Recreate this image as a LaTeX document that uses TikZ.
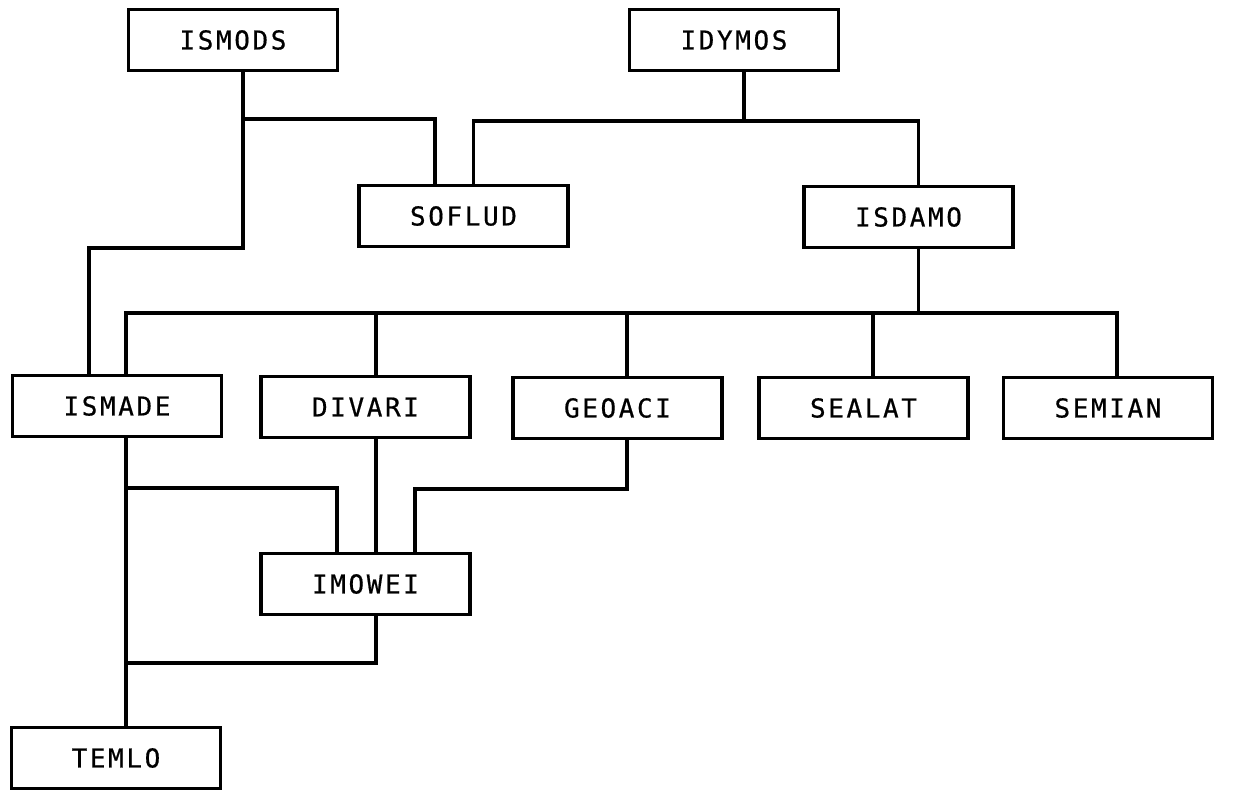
\documentclass[tikz,border=0pt]{standalone}
\usepackage{fontspec}
\newfontfamily\boxfont{DejaVu Sans Mono}[LetterSpace=10,FakeBold=0.6]
\usetikzlibrary{calc}
\begin{document}
\begin{tikzpicture}[x=1pt,y=-1pt,
  modbox/.style={draw, line width=3.8pt, rectangle, minimum width=209pt, minimum height=61pt, inner sep=0pt,
    font=\boxfont\fontsize{26}{26}\selectfont},
  link/.style={line width=3.4pt, line join=miter}]
\useasboundingbox (0,0) rectangle (1240,792);
\fill[white] (0,0) rectangle (1240,792);

% nodes
\node[modbox] (ismods) at (233,40) {ISMODS};
\node[modbox] (idymos) at (734,40) {IDYMOS};
\node[modbox] (soflud) at (463.5,216) {SOFLUD};
\node[modbox] (isdamo) at (908.5,217) {ISDAMO};
\node[modbox] (ismade) at (117,406) {ISMADE};
\node[modbox] (divari) at (365.5,407) {DIVARI};
\node[modbox] (geoaci) at (617.5,408) {GEOACI};
\node[modbox] (sealat) at (863.5,408) {SEALAT};
\node[modbox] (semian) at (1108,408) {SEMIAN};
\node[modbox] (imowei) at (365.5,584) {IMOWEI};
\node[modbox] (temlo) at (116,758) {TEMLO};

% junctions
\coordinate (a1) at (243,119);
\coordinate (a2) at (243,248);
\coordinate (b1) at (744,121);
\coordinate (c1) at (918.5,313);
\coordinate (d1) at (126,488);
\coordinate (d2) at (126,663);
\coordinate (e1) at (627,489);

% ISMODS
\draw[link] ([xshift=10pt]ismods.south) -- (a1) -| ([xshift=-28.5pt]soflud.north);
\draw[link] (a1) -- (a2) -| ([xshift=-28pt]ismade.north);

% IDYMOS
\draw[link] ([xshift=10pt]idymos.south) -- (b1);
\draw[link] ([xshift=10pt]soflud.north) |- (b1) -| ([xshift=10pt]isdamo.north);

% ISDAMO bus
\draw[link] ([xshift=10pt]isdamo.south) -- (c1);
\draw[link] ([xshift=9pt]ismade.north) |- (c1) -| ([xshift=9pt]semian.north);
\draw[link] ([xshift=10.5pt]divari.north) -- ([xshift=10.5pt]divari.north |- c1);
\draw[link] ([xshift=9.5pt]geoaci.north) -- ([xshift=9.5pt]geoaci.north |- c1);
\draw[link] ([xshift=9.5pt]sealat.north) -- ([xshift=9.5pt]sealat.north |- c1);

% lower part
\draw[link] ([xshift=9pt]ismade.south) -- ([xshift=10pt]temlo.north);
\draw[link] (d1) -| ([xshift=-28.5pt]imowei.north);
\draw[link] ([xshift=10.5pt]divari.south) -- ([xshift=10.5pt]imowei.north);
\draw[link] ([xshift=9.5pt]geoaci.south) -- (e1) -| ([xshift=49.5pt]imowei.north);
\draw[link] ([xshift=10.5pt]imowei.south) |- (d2);
\end{tikzpicture}
\end{document}
